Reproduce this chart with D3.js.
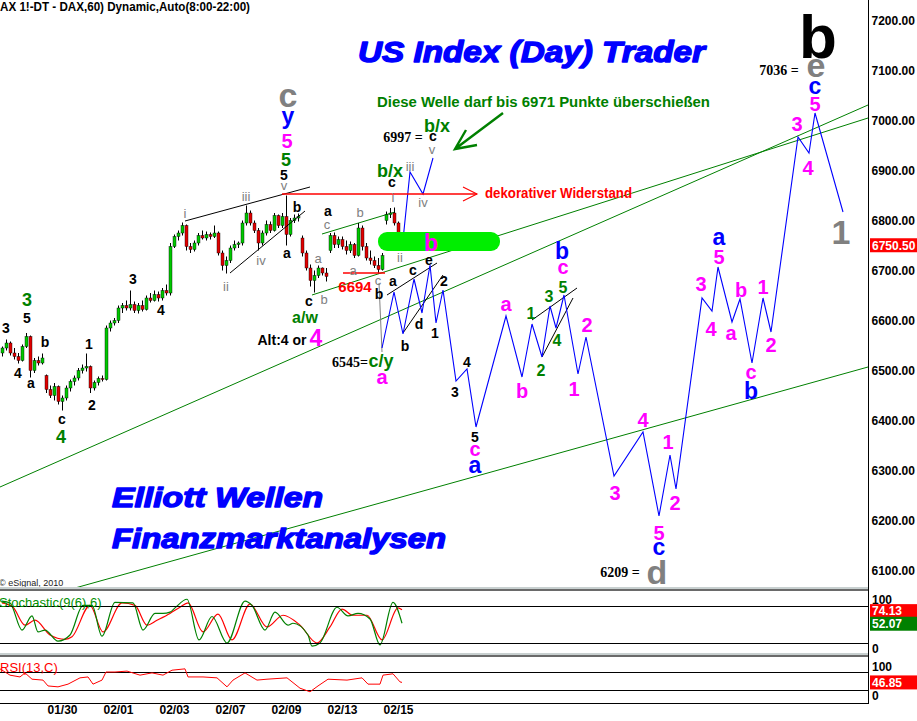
<!DOCTYPE html>
<html><head><meta charset="utf-8">
<script src="https://cdn.jsdelivr.net/npm/d3@7/dist/d3.min.js"></script>
<style>
html,body{margin:0;padding:0;background:#fff;}
svg{display:block;font-family:"Liberation Sans",Arial,sans-serif;}
</style></head><body>
<svg id="chart" width="917" height="721"></svg>
<script>
// ---------------- DATA ----------------
const candleOpen  = [6535,6545,6555,6535,6528,6520,6548,6568,6500,6520,6515,6490,6462,6450,6468,6438,6445,6465,6478,6485,6500,6505,6508,6465,6476,6484,6482,6585,6595,6600,6625,6630,6625,6632,6620,6630,6622,6645,6640,6652,6645,6660,6655,6748,6768,6775,6790,6748,6742,6755,6770,6765,6772,6768,6775,6735,6710,6720,6745,6752,6755,6795,6815,6795,6780,6755,6775,6792,6780,6810,6790,6808,6772,6800,6805,6765,6735,6705,6680,6690,6705,6695,6740,6770,6752,6762,6748,6740,6752,6730,6785,6748,6725,6720,6710,6702,6800,6812,6815,6795,6760];
const candleHigh  = [6548,6562,6558,6545,6535,6552,6575,6570,6525,6528,6534,6492,6470,6475,6470,6450,6470,6482,6490,6505,6512,6534,6510,6480,6488,6490,6590,6600,6605,6630,6635,6640,6660,6638,6635,6640,6650,6655,6660,6658,6665,6672,6755,6772,6780,6796,6792,6755,6760,6775,6780,6778,6776,6790,6778,6740,6728,6750,6760,6758,6800,6830,6820,6800,6785,6780,6800,6798,6815,6812,6815,6850,6805,6812,6814,6770,6740,6712,6700,6710,6706,6705,6775,6776,6768,6768,6760,6758,6755,6795,6790,6755,6740,6728,6725,6735,6818,6825,6826,6798,6768];
const candleLow   = [6528,6540,6530,6522,6514,6518,6545,6486,6495,6510,6512,6455,6445,6440,6432,6420,6440,6458,6470,6480,6494,6498,6455,6460,6470,6478,6480,6578,6590,6595,6615,6620,6620,6615,6614,6618,6620,6636,6638,6638,6640,6650,6650,6745,6760,6770,6740,6735,6738,6750,6762,6760,6762,6765,6730,6700,6694,6715,6740,6745,6750,6790,6790,6775,6740,6750,6770,6775,6778,6785,6785,6750,6768,6795,6798,6728,6700,6668,6656,6685,6690,6678,6735,6745,6745,6742,6732,6735,6725,6728,6740,6720,6712,6705,6694,6700,6792,6805,6790,6755,6741];
const candleClose = [6545,6555,6535,6528,6520,6548,6568,6500,6520,6515,6525,6462,6450,6468,6438,6445,6465,6478,6485,6500,6505,6508,6465,6476,6484,6482,6585,6595,6600,6625,6630,6625,6632,6620,6630,6622,6645,6640,6652,6645,6660,6655,6748,6768,6775,6790,6748,6742,6755,6770,6765,6772,6768,6775,6735,6710,6720,6745,6752,6755,6795,6815,6795,6780,6755,6775,6792,6780,6810,6790,6808,6772,6800,6805,6808,6735,6705,6680,6690,6705,6695,6688,6770,6752,6762,6748,6740,6752,6730,6785,6748,6725,6720,6710,6702,6730,6812,6815,6795,6760,6750.5];

const priceTicks = [6100,6200,6300,6400,6500,6600,6700,6800,6900,7000,7100,7200];
const lastPrice = 6750.5;
const dateLabels = ["01/30","02/01","02/03","02/07","02/09","02/13","02/15"];
const dateIndex  = [15,29,43,57,71,85,99];

// projected wave path (bar index, price)
const projIdx   = [95,98,100.25,103,105,107,108.5,110.25,113.5,116.25,118.5,126,130,132.5,135,137,138.5,140.5,144,146,153,160.25,164.25,167,168.5,175,177.5,179,182.5,184.5,187.5,190.25,192.25,199,201.75,203.25,210.25];
const projPrice = [6545,6657,6573,6683,6615,6711,6595,6661,6479,6503,6387,6609,6487,6593,6527,6629,6585,6651,6493,6567,6289,6377,6209,6331,6263,6645,6619,6707,6597,6643,6515,6645,6577,6967,6935,7015,6817];
const altIdx    = [100.25,102,105.25,107.75];
const altPrice  = [6761,6897,6853,6925];

// trend lines [idx1, price1, idx2, price2]
const greenLines = [[-0.5,6267,216.5,7031],[77.5,6651,216.5,7005],[80,6773,98.25,6817],[18.25,6065,216.5,6507]];
const blackLines = [[45.75,6799,77,6867],[57,6695,75.75,6819],[96.25,6651,108.75,6715],[100.25,6575,110.25,6691],[132.5,6601,143.75,6665],[135,6527,142.75,6645]];
const greyLine   = [94.25,6675,95,6537];
const resistance = [70,118.75,6853];
const support6694 = [85.25,95.75,6695];
const greenZone  = [94,124.5,6739,6777];
const greenArrow = [125.25,7015,113.25,6943];

// indicators
const stochKIdx = [0,2,5,7.5,9,10.75,14,17,20.25,22.5,25,28.25,32.75,35.25,38.25,40.25,42,43.25,46.25,49.25,52.5,56.25,60.75,62.5,65.75,68.25,71.5,72.75,76.5,77.5,79.5,83.75,86.5,89,92,94.5,97.75,100];
const stochK    = [88,85,41,64,38,41,23,33,81,81,31,86,85,41,68,68,70,77,91,25,63,20,88,81,41,70,49,52,33,15,20,78,64,68,59,17,86,52.07];
const stochDIdx = [0,2.75,5.75,8.25,12,15.75,17.5,22,25.25,30,33.25,36.25,38.75,42,44.5,46.5,50.25,54,57.5,62,66.25,70.25,74.5,78.75,82,85,87.75,91.25,95,99,100];
const stochD    = [85,78,49,57,33,26,30,81,38,85,81,49,57,68,78,85,38,67,25,83,46,65,49,20,46,75,65,65,25,77,74.13];
const rsiIdx = [-0.5,2,4.5,5.75,7.5,10.25,11.5,14,16.5,19.5,21.5,22.75,25,26,28.25,31.25,34.5,37.5,40.25,42.5,45.75,46.5,50.25,53.75,56.25,57.75,60.75,63.75,66.25,71.25,74.5,77,79,81.5,86.25,90,91.5,94.5,95.25,97.75,99.5,100];
const rsiVal = [77,63,59,68,54,52,39,37,43,57,59,43,52,70,70,72,63,68,63,74,77,59,59,57,37,52,68,52,54,57,34,26,39,54,52,57,43,43,63,66,48,46.85];
const stochLevels = [20,80];
const rsiLevels = [30,70];

// wave labels [text, bar index, price, kind]
const waveLabels = [
 ["3",1,6585,"blk"],["5",6.25,6605,"blk"],["3",6.25,6641,"grnL"],["4",4,6495,"blk"],["a",7.25,6473,"blk"],
 ["b",10.75,6557,"blk"],["c",15,6401,"blk"],["4",14.75,6367,"grnL"],["1",21.75,6553,"blk"],["2",22.5,6431,"blk"],
 ["3",32.75,6683,"blk"],["4",39.75,6621,"blk"],["i",45.75,6815,"grey"],["ii",56,6669,"grey"],["iii",61,6849,"grey"],
 ["iv",64.75,6721,"grey"],["v",70.5,6869,"grey"],["5",70.5,6891,"blk"],["5",71,6921,"grnL"],["5",71.25,6959,"mag"],
 ["y",71.5,7001,"blue"],["c",71.5,7045,"greyXL"],["a",71.25,6733,"blk"],["b",73.75,6827,"blk"],["c",76.75,6637,"blk"],
 ["a/w",75.75,6603,"grnM"],["Alt:4 or",70,6561,"blk"],["4",78.5,6565,"magXL"],["a",79,6723,"grey"],["b",80.5,6643,"grey"],
 ["a",81.5,6817,"blk"],["c",81.25,6791,"grey"],["b",89.5,6817,"grey"],["a",87.75,6699,"grey"],["6694",88.25,6667,"red"],
 ["c",94,6679,"grey"],["b",94.25,6653,"blk"],["c",97.5,6875,"blk"],["b/x",97,6899,"grnL"],["i",97.75,6847,"grey"],
 ["iii",102,6909,"grey"],["iv",105.25,6837,"grey"],["ii",99.5,6727,"grey"],["6997 =",100.25,6967,"num"],["c",107.75,6967,"blk"],
 ["b/x",108.75,6989,"grnL"],["v",107.5,6941,"grey"],["b",107.25,6755,"magXL"],
 ["a",97.75,6677,"blk"],["b",100.75,6549,"blk"],["c",102.75,6699,"blk"],["d",104.25,6593,"blk"],["e",106.75,6719,"blk"],
 ["1",108.25,6575,"blk"],["2",110.5,6679,"blk"],["6545=",87,6517,"num"],["c/y",94.75,6519,"grnL"],["a",95,6483,"mag"],
 ["3",113.25,6457,"blk"],["4",116.25,6517,"blk"],["5",118.25,6367,"blk"],["c",118.25,6339,"mag"],["a",118.25,6307,"blue"],
 ["a",126,6629,"mag"],["b",130,6459,"mag"],["1",132.25,6615,"grnM"],["2",134.75,6501,"grnM"],["3",136.75,6649,"grnM"],
 ["4",138.75,6561,"grnM"],["5",140.25,6667,"grnM"],["c",140.25,6703,"mag"],["b",140,6739,"blue"],["2",146.25,6591,"mag"],
 ["1",143,6463,"mag"],["4",160.25,6401,"mag"],["1",166.5,6357,"mag"],["3",153.25,6255,"mag"],["5",164.25,6175,"mag"],
 ["c",164.25,6143,"blue"],["d",163.75,6097,"greyXL"],["6209 =",154.5,6097,"num"],["2",168.25,6235,"mag"],["3",174.75,6673,"mag"],
 ["4",177.25,6583,"mag"],["5",179.25,6727,"mag"],["a",179.25,6763,"blue"],["a",182.25,6571,"mag"],["b",184.75,6661,"mag"],
 ["c",187.25,6493,"mag"],["b",187.25,6459,"blue"],["1",190.25,6667,"mag"],["2",192.25,6551,"mag"],["3",198.75,6993,"mag"],
 ["4",201.5,6905,"mag"],["5",203.25,7033,"mag"],["c",203.25,7065,"blue"],["e",203.5,7105,"greyXL"],["7036 =",194.25,7101,"num"],
 ["b",204,7169,"bigB"],["1",209.75,6777,"greyXL"]
];

// ---------------- STYLES ----------------
const kinds = {
  blk:   {fill:"#000", size:14, weight:"bold"},
  grey:  {fill:"#808080", size:13, weight:"normal"},
  greyXL:{fill:"#808080", size:34, weight:"bold"},
  mag:   {fill:"#ff00ff", size:20, weight:"bold"},
  magXL: {fill:"#ff00ff", size:23, weight:"bold"},
  blue:  {fill:"#0000ff", size:23, weight:"bold"},
  grnL:  {fill:"#008000", size:18, weight:"bold"},
  grnM:  {fill:"#008000", size:16, weight:"bold"},
  red:   {fill:"#ff0000", size:15, weight:"bold"},
  num:   {fill:"#000", size:14, weight:"bold", family:"'Liberation Serif','Times New Roman',serif"},
  bigB:  {fill:"#000", size:62, weight:"bold"}
};

// ---------------- CHART ----------------
const svg = d3.select("#chart");
const axisX = 868.5;
const x  = d3.scaleLinear().domain([0,216.75]).range([2,869]);
const yP = d3.scaleLinear().domain([6100,7200]).range([570.5,20.5]);
const yS = d3.scaleLinear().domain([0,100]).range([655.3,593.7]);
const yR = d3.scaleLinear().domain([0,100]).range([703.5,658.5]);

svg.append("rect").attr("width",917).attr("height",721).attr("fill","#fff");
const defs = svg.append("defs");
defs.append("clipPath").attr("id","clipP").append("rect").attr("x",0).attr("y",0).attr("width",868).attr("height",587);
defs.append("clipPath").attr("id","clipS").append("rect").attr("x",0).attr("y",592).attr("width",868).attr("height",63);
defs.append("clipPath").attr("id","clipR").append("rect").attr("x",0).attr("y",658).attr("width",868).attr("height",45);

const gP = svg.append("g").attr("clip-path","url(#clipP)");

// titles
const title = (t,x0,y0,len,size)=> svg.append("text").attr("x",x0).attr("y",y0).text(t)
   .attr("font-size",size).attr("font-weight","bold").attr("font-style","italic")
   .attr("fill","#0000ff").attr("stroke","#0000ff").attr("stroke-width",1.4).attr("stroke-linejoin","round")
   .attr("textLength",len).attr("lengthAdjust","spacingAndGlyphs");
title("US Index (Day) Trader",358,62,347,30);
title("Elliott Wellen",112,507,211,28);
title("Finanzmarktanalysen",112,548,334,28);

svg.append("text").attr("x",0).attr("y",11).text("AX 1!-DT - DAX,60) Dynamic,Auto(8:00-22:00)")
  .attr("font-size",12).attr("font-weight","bold").attr("textLength",250).attr("lengthAdjust","spacingAndGlyphs");
svg.append("text").attr("x",-1).attr("y",586).text("© eSignal, 2010").attr("font-size",9).attr("fill","#222");

// green trend lines
gP.selectAll("line.g").data(greenLines).join("line")
  .attr("x1",d=>x(d[0])).attr("y1",d=>yP(d[1])).attr("x2",d=>x(d[2])).attr("y2",d=>yP(d[3]))
  .attr("stroke","#008000").attr("stroke-width",1);

// candles
const idx = d3.range(candleClose.length);
const cg = gP.append("g");
cg.selectAll("line").data(idx).join("line")
  .attr("x1",i=>Math.round(x(i))+0.5).attr("x2",i=>Math.round(x(i))+0.5)
  .attr("y1",i=>yP(candleHigh[i])).attr("y2",i=>yP(candleLow[i]))
  .attr("stroke","#000").attr("stroke-width",1);
cg.selectAll("rect").data(idx).join("rect")
  .attr("x",i=>Math.round(x(i))-1).attr("width",3)
  .attr("y",i=>yP(Math.max(candleOpen[i],candleClose[i])))
  .attr("height",i=>Math.max(1,Math.abs(yP(candleOpen[i])-yP(candleClose[i]))))
  .attr("fill",i=>candleClose[i]>=candleOpen[i]?"#00c800":"#e00000")
  .attr("stroke","#000").attr("stroke-width",0.4);

// black wave lines
gP.selectAll("line.b").data(blackLines).join("line")
  .attr("x1",d=>x(d[0])).attr("y1",d=>yP(d[1])).attr("x2",d=>x(d[2])).attr("y2",d=>yP(d[3]))
  .attr("stroke","#000").attr("stroke-width",1);
gP.append("line").attr("x1",x(greyLine[0])).attr("y1",yP(greyLine[1])).attr("x2",x(greyLine[2])).attr("y2",yP(greyLine[3]))
  .attr("stroke","#808080").attr("stroke-width",1);

// projected paths
const pline = d3.line().x(d=>x(d[0])).y(d=>yP(d[1]));
gP.append("path").attr("d",pline(projIdx.map((v,i)=>[v,projPrice[i]]))).attr("fill","none").attr("stroke","#0000ff").attr("stroke-width",1.1);
gP.append("path").attr("d",pline(altIdx.map((v,i)=>[v,altPrice[i]]))).attr("fill","none").attr("stroke","#0000ff").attr("stroke-width",1.1);

// red resistance + arrow
const ry = yP(resistance[2]), rx2 = x(resistance[1]);
gP.append("line").attr("x1",x(resistance[0])).attr("x2",rx2).attr("y1",ry).attr("y2",ry).attr("stroke","#ff0000").attr("stroke-width",1.3);
gP.append("path").attr("d",`M${rx2-14},${ry-7}L${rx2},${ry}L${rx2-14},${ry+7}`).attr("fill","none").attr("stroke","#ff0000").attr("stroke-width",1.1);
gP.append("line").attr("x1",x(support6694[0])).attr("x2",x(support6694[1])).attr("y1",yP(support6694[2])).attr("y2",yP(support6694[2])).attr("stroke","#ff0000").attr("stroke-width",1.3);

// green zone
gP.append("rect").attr("x",x(greenZone[0])).attr("width",x(greenZone[1])-x(greenZone[0]))
  .attr("y",yP(greenZone[3])).attr("height",yP(greenZone[2])-yP(greenZone[3]))
  .attr("rx",9).attr("fill","#00ee00");

// green arrow
const ax1=x(greenArrow[0]), ay1=yP(greenArrow[1]), ax2=x(greenArrow[2]), ay2=yP(greenArrow[3]);
gP.append("path").attr("d",`M${ax1},${ay1}L${ax2},${ay2}M${ax2+11},${ay2-19}L${ax2},${ay2}L${ax2+22},${ay2-4}`)
  .attr("fill","none").attr("stroke","#008000").attr("stroke-width",2.4);

// texts
svg.append("text").attr("x",377).attr("y",107).text("Diese Welle darf bis 6971 Punkte überschießen")
  .attr("font-size",14).attr("font-weight","bold").attr("fill","#008000").attr("textLength",333).attr("lengthAdjust","spacingAndGlyphs");
svg.append("text").attr("x",485).attr("y",198).text("dekorativer Widerstand")
  .attr("font-size",14.5).attr("font-weight","bold").attr("fill","#ff0000").attr("textLength",147).attr("lengthAdjust","spacingAndGlyphs");

const dyFor = t => t==="y" ? "0.16em" : (/^[aceosuvwxzmnr\/]+$/.test(t) ? "0.27em" : "0.36em");
gP.selectAll("text.w").data(waveLabels).join("text")
  .attr("x",d=>x(d[1])).attr("y",d=>yP(d[2])).attr("dy",d=>dyFor(d[0]))
  .attr("text-anchor","middle").text(d=>d[0])
  .attr("fill",d=>kinds[d[3]].fill).attr("font-size",d=>kinds[d[3]].size)
  .attr("font-weight",d=>kinds[d[3]].weight)
  .attr("font-family",d=>kinds[d[3]].family||null);

// separators
[587,653].forEach(yy=>{
  svg.append("rect").attr("x",0).attr("y",yy).attr("width",868).attr("height",2).attr("fill","#c8d0d0");
  svg.append("rect").attr("x",0).attr("y",yy+2).attr("width",868).attr("height",2).attr("fill","#6a6a6a");
});

// stochastic panel
const gS = svg.append("g").attr("clip-path","url(#clipS)");
stochLevels.forEach(v=>svg.append("line").attr("x1",0).attr("x2",868).attr("y1",Math.round(yS(v))+0.5).attr("y2",Math.round(yS(v))+0.5).attr("stroke","#000").attr("stroke-width",1.2));
const sl = d3.line().x(d=>x(d[0])).y(d=>yS(d[1])).curve(d3.curveMonotoneX);
gS.append("path").attr("d",sl(stochDIdx.map((v,i)=>[v,stochD[i]]))).attr("fill","none").attr("stroke","#ff0000").attr("stroke-width",1.2);
gS.append("path").attr("d",sl(stochKIdx.map((v,i)=>[v,stochK[i]]))).attr("fill","none").attr("stroke","#008000").attr("stroke-width",1.2);
svg.append("text").attr("x",-1).attr("y",607).text("Stochastic(9(6),6)").attr("font-size",13).attr("fill","#009000");

// rsi panel
rsiLevels.forEach(v=>svg.append("line").attr("x1",0).attr("x2",868).attr("y1",Math.round(yR(v))+0.5).attr("y2",Math.round(yR(v))+0.5).attr("stroke","#000").attr("stroke-width",1.2));
const gR = svg.append("g").attr("clip-path","url(#clipR)");
const rl = d3.line().x(d=>x(d[0])).y(d=>yR(d[1]));
gR.append("path").attr("d",rl(rsiIdx.map((v,i)=>[v,rsiVal[i]]))).attr("fill","none").attr("stroke","#ff0000").attr("stroke-width",1);
svg.append("text").attr("x",0).attr("y",672).text("RSI(13,C)").attr("font-size",13).attr("fill","#ff0000");

// frame
svg.append("line").attr("x1",axisX).attr("x2",axisX).attr("y1",0).attr("y2",704).attr("stroke","#000").attr("stroke-width",1);
svg.append("line").attr("x1",0).attr("x2",axisX).attr("y1",703.5).attr("y2",703.5).attr("stroke","#000").attr("stroke-width",1);

// price axis
const pa = svg.append("g").attr("transform",`translate(${axisX},0)`)
  .call(d3.axisRight(yP).tickValues(priceTicks).tickFormat(d3.format(".2f")).tickSize(0).tickPadding(3));
pa.select(".domain").remove();
pa.selectAll("text").attr("font-size",12).attr("font-weight","bold").attr("font-family","'Liberation Sans',Arial,sans-serif").attr("fill","#000");

function valueBox(yc, txt, bg){
  svg.append("rect").attr("x",870).attr("y",yc-7).attr("width",47).attr("height",14).attr("fill",bg);
  svg.append("text").attr("x",872).attr("y",yc).attr("dy","0.36em").text(txt)
    .attr("font-size",12).attr("font-weight","bold").attr("fill","#fff");
}
valueBox(yP(lastPrice), d3.format(".2f")(lastPrice), "#ff0000");

function axisLabel(yc, txt){
  svg.append("text").attr("x",872).attr("y",yc).attr("dy","0.36em").text(txt).attr("font-size",12).attr("font-weight","bold");
}
axisLabel(600,"100"); axisLabel(649,"0");
valueBox(yS(stochD[stochD.length-1])+1.5, d3.format(".2f")(stochD[stochD.length-1]), "#ff0000");
valueBox(yS(stochK[stochK.length-1])+0.5, d3.format(".2f")(stochK[stochK.length-1]), "#008000");
axisLabel(667,"100"); axisLabel(696,"0");
valueBox(yR(rsiVal[rsiVal.length-1]), d3.format(".2f")(rsiVal[rsiVal.length-1]), "#ff0000");

// date axis
const da = svg.append("g").attr("transform","translate(0,703)")
  .call(d3.axisBottom(x).tickValues(dateIndex).tickFormat((d,i)=>dateLabels[i]).tickSize(0).tickPadding(2));
da.select(".domain").remove();
da.selectAll("text").attr("font-size",12).attr("font-weight","bold").attr("font-family","'Liberation Sans',Arial,sans-serif").attr("fill","#000");
</script></body></html>
